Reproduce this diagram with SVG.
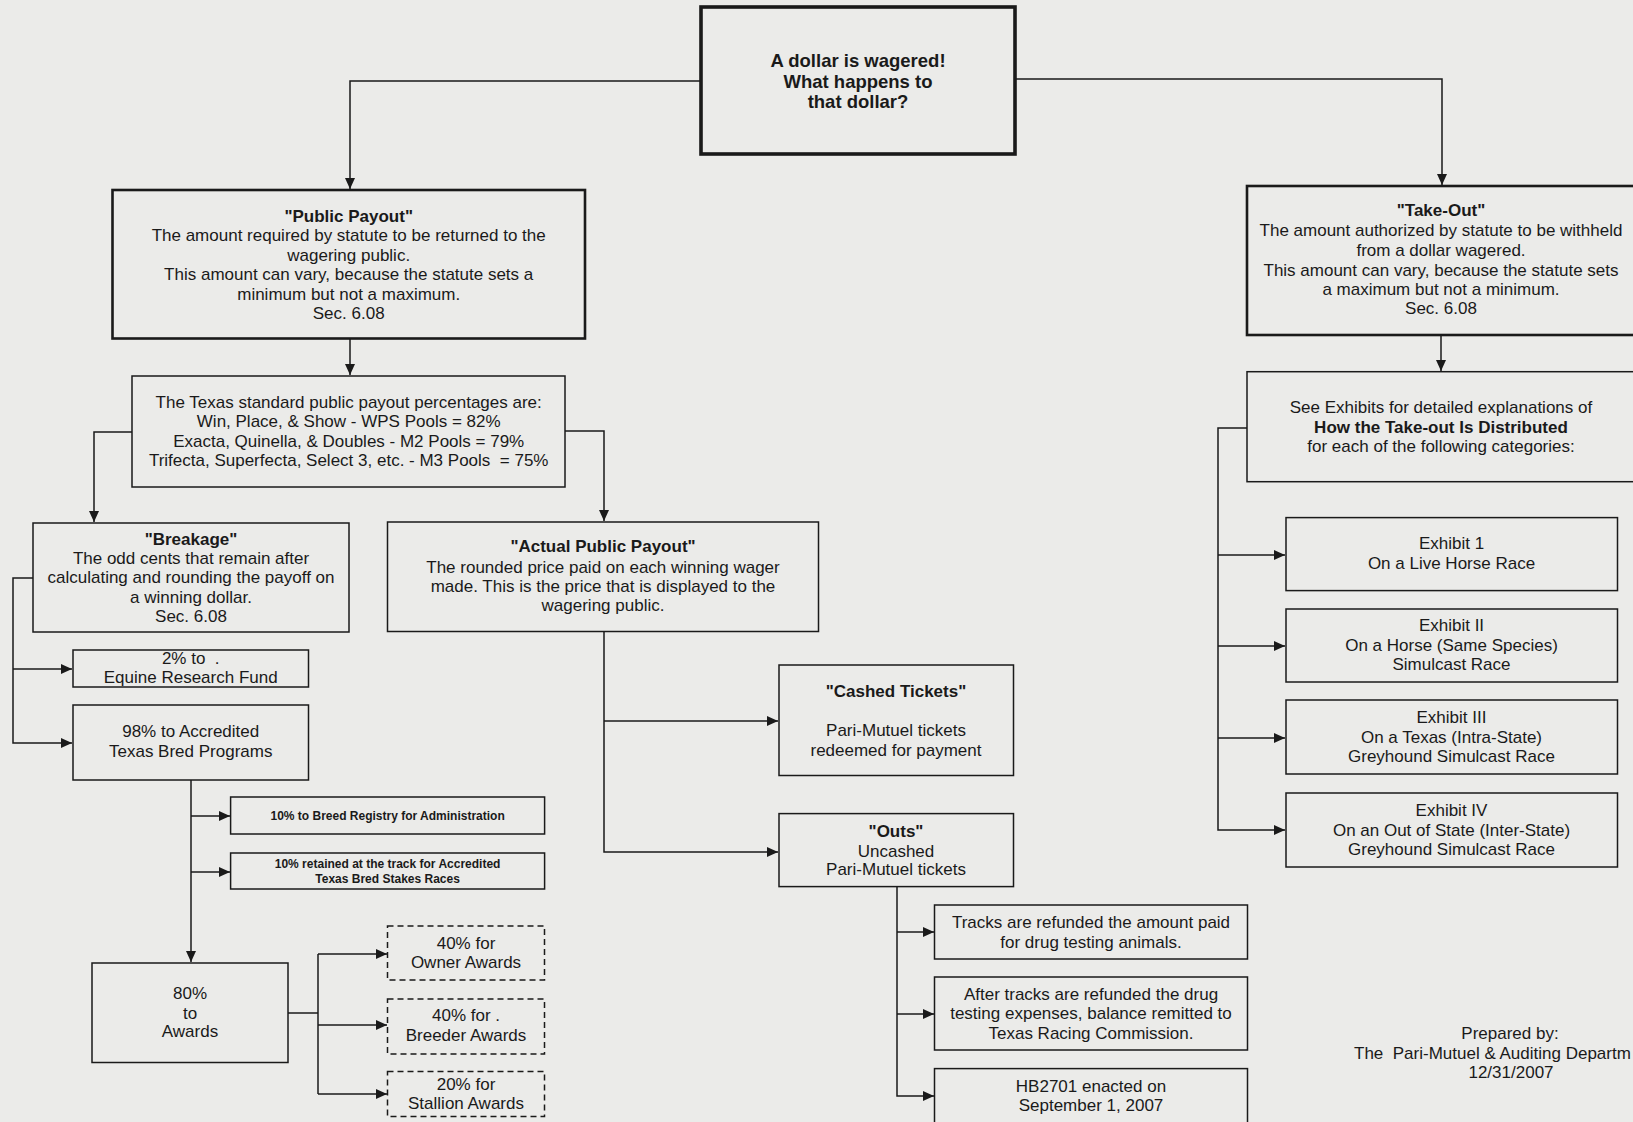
<svg xmlns="http://www.w3.org/2000/svg" width="1633" height="1122" viewBox="0 0 1633 1122">
<style>
text{font-family:"Liberation Sans",Arial,sans-serif;font-size:17px;fill:#1a1a1a;text-anchor:middle}
.b{font-weight:bold}
.t{font-size:18.5px;font-weight:bold}
.s{font-size:12px;font-weight:bold}
.l{text-anchor:start}
rect{fill:none;stroke:#1a1a1a;stroke-width:1.5}
.thick{stroke-width:2.6}
.top{stroke-width:3.6}
.dash{stroke-dasharray:6 4}
.c path{fill:none;stroke:#1a1a1a;stroke-width:1.5}
</style>
<defs>
<marker id="ar" markerUnits="userSpaceOnUse" markerWidth="12" markerHeight="10" refX="11" refY="5" orient="auto">
<path d="M0,0 L11,5 L0,10 z" fill="#1a1a1a"/>
</marker>
</defs>
<rect x="0" y="0" width="1633" height="1122" style="fill:#ebebe9;stroke:none"/>

<g class="c" id="connectors">
<path d="M701,81 H350 V189" marker-end="url(#ar)"/>
<path d="M1015,79 H1442 V185" marker-end="url(#ar)"/>
<path d="M350,339 V375" marker-end="url(#ar)"/>
<path d="M132,432 H94 V522" marker-end="url(#ar)"/>
<path d="M565,431 H604 V521" marker-end="url(#ar)"/>
<path d="M33,578 H13 V743 H72" marker-end="url(#ar)"/>
<path d="M13,669 H72" marker-end="url(#ar)"/>
<path d="M191,780 V962" marker-end="url(#ar)"/>
<path d="M191,816 H230" marker-end="url(#ar)"/>
<path d="M191,872 H230" marker-end="url(#ar)"/>
<path d="M288,1013 H318"/>
<path d="M318,954 V1094"/>
<path d="M318,954 H387" marker-end="url(#ar)"/>
<path d="M318,1025 H387" marker-end="url(#ar)"/>
<path d="M318,1094 H387" marker-end="url(#ar)"/>
<path d="M604,632 V852 H778" marker-end="url(#ar)"/>
<path d="M604,721 H778" marker-end="url(#ar)"/>
<path d="M897,887 V1096 H934" marker-end="url(#ar)"/>
<path d="M897,932 H934" marker-end="url(#ar)"/>
<path d="M897,1014 H934" marker-end="url(#ar)"/>
<path d="M1441,335 V371" marker-end="url(#ar)"/>
<path d="M1247,428 H1218 V830 H1285" marker-end="url(#ar)"/>
<path d="M1218,555 H1285" marker-end="url(#ar)"/>
<path d="M1218,646 H1285" marker-end="url(#ar)"/>
<path d="M1218,738 H1285" marker-end="url(#ar)"/>
</g>

<g id="start">
<rect class="top" x="701" y="7" width="314" height="147"/>
<text class="t" x="858" y="67">A dollar is wagered!</text>
<text class="t" x="858" y="87.5">What happens to</text>
<text class="t" x="858" y="108">that dollar?</text>
</g>

<g id="public-payout">
<rect class="thick" x="112.5" y="190" width="472.5" height="148.5"/>
<text class="b" x="348.7" y="222">"Public Payout"</text>
<text x="348.7" y="241">The amount required by statute to be returned to the</text>
<text x="348.7" y="260.5">wagering public.</text>
<text x="348.7" y="280">This amount can vary, because the statute sets a</text>
<text x="348.7" y="299.5">minimum but not a maximum.</text>
<text x="348.7" y="318.8">Sec. 6.08</text>
</g>

<g id="texas-standard">
<rect x="132" y="376" width="433" height="111"/>
<text x="348.7" y="408">The Texas standard public payout percentages are:</text>
<text x="348.7" y="427">Win, Place, &amp; Show - WPS Pools = 82%</text>
<text x="348.7" y="447">Exacta, Quinella, &amp; Doubles - M2 Pools = 79%</text>
<text x="348.7" y="466" xml:space="preserve">Trifecta, Superfecta, Select 3, etc. - M3 Pools  = 75%</text>
</g>

<g id="breakage">
<rect x="33" y="523" width="316" height="109"/>
<text class="b" x="191" y="545">"Breakage"</text>
<text x="191" y="564">The odd cents that remain after</text>
<text x="191" y="583">calculating and rounding the payoff on</text>
<text x="191" y="603">a winning dollar.</text>
<text x="191" y="622">Sec. 6.08</text>
</g>

<g id="equine-research">
<rect x="73" y="650" width="235.5" height="37"/>
<text x="190.7" y="664" xml:space="preserve">2% to  .</text>
<text x="190.7" y="682.5">Equine Research Fund</text>
</g>

<g id="texas-bred">
<rect x="73" y="705" width="235.5" height="75"/>
<text x="190.7" y="737">98% to Accredited</text>
<text x="190.7" y="757">Texas Bred Programs</text>
</g>

<g id="breed-registry">
<rect x="230.6" y="797" width="314" height="37"/>
<text class="s" x="387.6" y="820">10% to Breed Registry for Administration</text>
</g>

<g id="stakes-races">
<rect x="230.6" y="853" width="314" height="36"/>
<text class="s" x="387.6" y="868">10% retained at the track for Accredited</text>
<text class="s" x="387.6" y="882.5">Texas Bred Stakes Races</text>
</g>

<g id="awards">
<rect x="92" y="963" width="196" height="99.5"/>
<text x="190" y="998.5">80%</text>
<text x="190" y="1019">to</text>
<text x="190" y="1037">Awards</text>
</g>

<g id="owner-awards">
<rect class="dash" x="387.5" y="926" width="157" height="54"/>
<text x="466" y="949">40% for</text>
<text x="466" y="968">Owner Awards</text>
</g>

<g id="breeder-awards">
<rect class="dash" x="387.5" y="999" width="157" height="55"/>
<text x="466" y="1021">40% for .</text>
<text x="466" y="1041">Breeder Awards</text>
</g>

<g id="stallion-awards">
<rect class="dash" x="387.5" y="1071.5" width="157" height="45"/>
<text x="466" y="1090">20% for</text>
<text x="466" y="1109">Stallion Awards</text>
</g>

<g id="actual-public-payout">
<rect x="387.5" y="522" width="431" height="109.5"/>
<text class="b" x="603" y="552">"Actual Public Payout"</text>
<text x="603" y="573">The rounded price paid on each winning wager</text>
<text x="603" y="591.6">made. This is the price that is displayed to the</text>
<text x="603" y="611">wagering public.</text>
</g>

<g id="cashed-tickets">
<rect x="779" y="665" width="234.5" height="110.5"/>
<text class="b" x="896" y="697">"Cashed Tickets"</text>
<text x="896" y="736">Pari-Mutuel tickets</text>
<text x="896" y="756">redeemed for payment</text>
</g>

<g id="outs">
<rect x="779" y="813.6" width="234.5" height="73"/>
<text class="b" x="896" y="837">"Outs"</text>
<text x="896" y="856.5">Uncashed</text>
<text x="896" y="875">Pari-Mutuel tickets</text>
</g>

<g id="drug-testing-refund">
<rect x="934.5" y="905" width="313" height="54"/>
<text x="1091" y="928">Tracks are refunded the amount paid</text>
<text x="1091" y="947.7">for drug testing animals.</text>
</g>

<g id="balance-remitted">
<rect x="934.5" y="977" width="313" height="73"/>
<text x="1091" y="999.7">After tracks are refunded the drug</text>
<text x="1091" y="1019">testing expenses, balance remitted to</text>
<text x="1091" y="1038.6">Texas Racing Commission.</text>
</g>

<g id="hb2701">
<rect x="934.5" y="1068.6" width="313" height="60"/>
<text x="1091" y="1092">HB2701 enacted on</text>
<text x="1091" y="1111">September 1, 2007</text>
</g>

<g id="take-out">
<rect class="thick" x="1247" y="186" width="395" height="149"/>
<text class="b" x="1441" y="216">"Take-Out"</text>
<text x="1441" y="236">The amount authorized by statute to be withheld</text>
<text x="1441" y="256">from a dollar wagered.</text>
<text x="1441" y="275.5">This amount can vary, because the statute sets</text>
<text x="1441" y="294.5">a maximum but not a minimum.</text>
<text x="1441" y="314">Sec. 6.08</text>
</g>

<g id="see-exhibits">
<rect x="1247" y="371.7" width="395" height="110"/>
<text x="1441" y="413">See Exhibits for detailed explanations of</text>
<text class="b" x="1441" y="432.7">How the Take-out Is Distributed</text>
<text x="1441" y="452">for each of the following categories:</text>
</g>

<g id="exhibit-1">
<rect x="1286" y="517.6" width="331.5" height="73"/>
<text x="1451.5" y="549.4">Exhibit 1</text>
<text x="1451.5" y="569">On a Live Horse Race</text>
</g>

<g id="exhibit-2">
<rect x="1286" y="609" width="331.5" height="73"/>
<text x="1451.5" y="631">Exhibit II</text>
<text x="1451.5" y="650.6">On a Horse (Same Species)</text>
<text x="1451.5" y="670">Simulcast Race</text>
</g>

<g id="exhibit-3">
<rect x="1286" y="700" width="331.5" height="74"/>
<text x="1451.5" y="722.6">Exhibit III</text>
<text x="1451.5" y="742.6">On a Texas (Intra-State)</text>
<text x="1451.5" y="762">Greyhound Simulcast Race</text>
</g>

<g id="exhibit-4">
<rect x="1286" y="793" width="331.5" height="74"/>
<text x="1451.5" y="815.5">Exhibit IV</text>
<text x="1451.5" y="836">On an Out of State (Inter-State)</text>
<text x="1451.5" y="855">Greyhound Simulcast Race</text>
</g>

<g id="prepared-by">
<text x="1510" y="1039.4">Prepared by:</text>
<text class="l" x="1354" y="1059" xml:space="preserve">The  Pari-Mutuel &amp; Auditing Departm</text>
<text x="1511" y="1077.5">12/31/2007</text>
</g>
</svg>
